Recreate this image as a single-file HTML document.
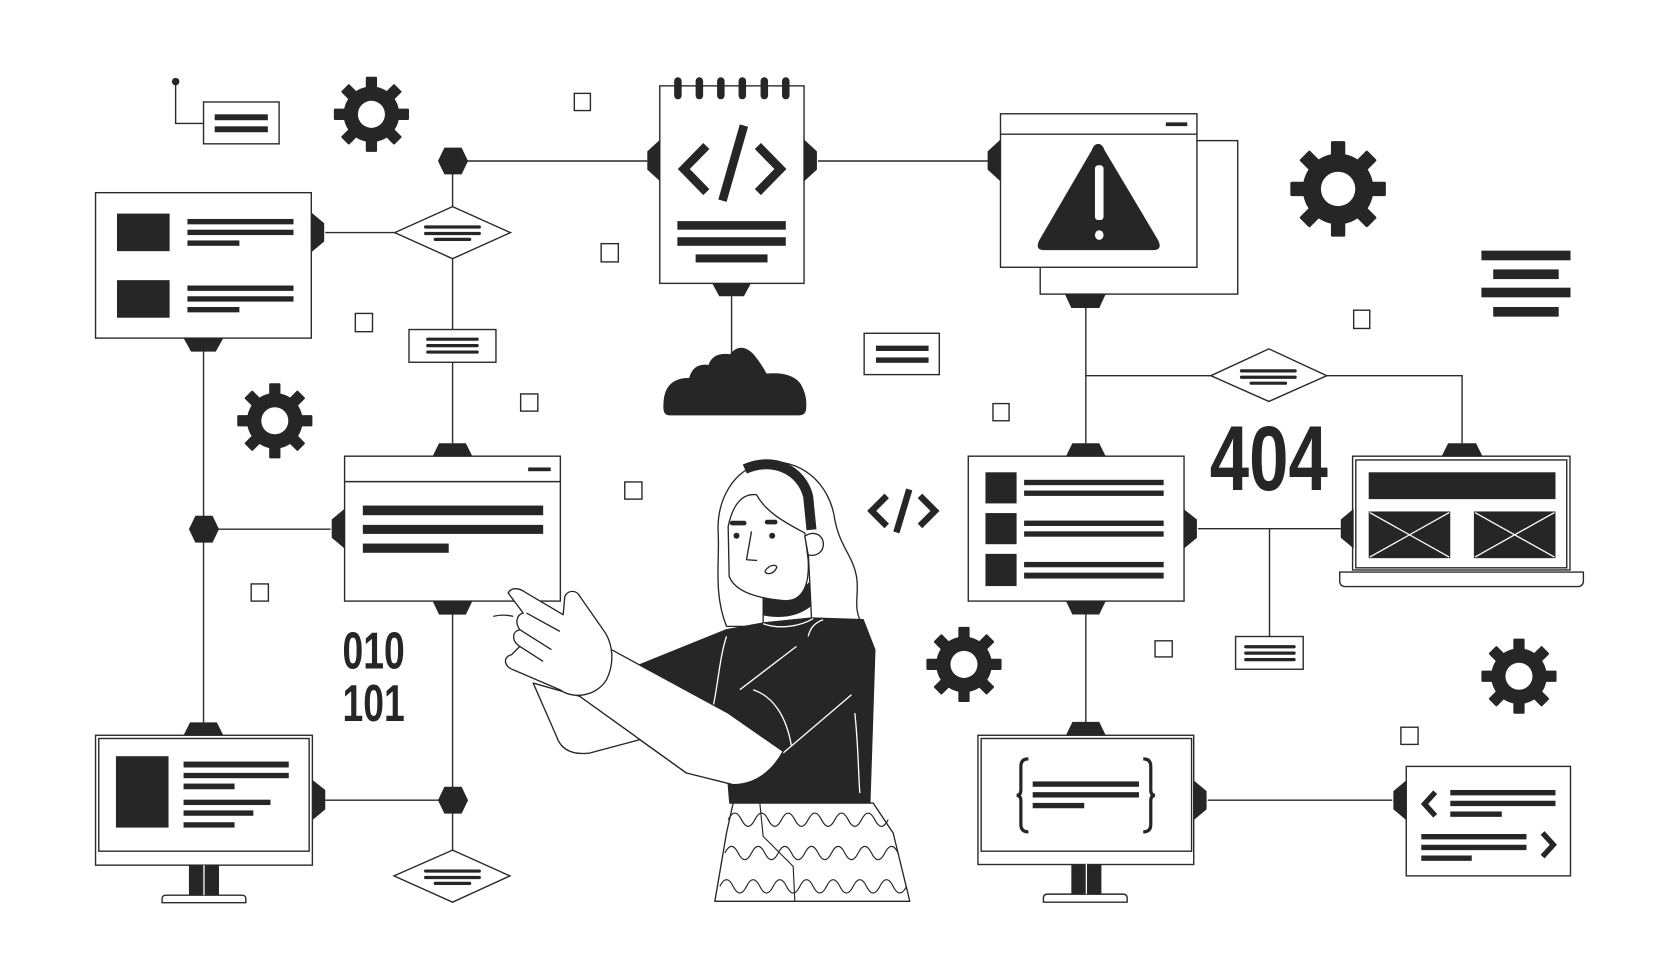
<!DOCTYPE html>
<html><head><meta charset="utf-8"><style>
html,body{margin:0;padding:0;background:#fff;}
svg{display:block;}
</style></head><body>
<svg width="1680" height="980" viewBox="0 0 1565 913" preserveAspectRatio="none" xmlns="http://www.w3.org/2000/svg">
<defs>
<symbol id="gear" viewBox="-1 -1 2 2" overflow="visible">
<g fill="#262626">
<rect x="-0.15" y="-1" width="0.3" height="0.5" rx="0.03"/>
<rect x="-0.15" y="-1" width="0.3" height="0.5" rx="0.03" transform="rotate(45)"/>
<rect x="-0.15" y="-1" width="0.3" height="0.5" rx="0.03" transform="rotate(90)"/>
<rect x="-0.15" y="-1" width="0.3" height="0.5" rx="0.03" transform="rotate(135)"/>
<rect x="-0.15" y="-1" width="0.3" height="0.5" rx="0.03" transform="rotate(180)"/>
<rect x="-0.15" y="-1" width="0.3" height="0.5" rx="0.03" transform="rotate(225)"/>
<rect x="-0.15" y="-1" width="0.3" height="0.5" rx="0.03" transform="rotate(270)"/>
<rect x="-0.15" y="-1" width="0.3" height="0.5" rx="0.03" transform="rotate(315)"/>
<circle r="0.74"/>
</g>
<circle r="0.36" fill="#fff"/>
</symbol>
<symbol id="hex" viewBox="-14 -12.5 28 25" overflow="visible">
<polygon points="-14,0 -8,-12.5 8,-12.5 14,0 8,12.5 -8,12.5" fill="#262626"/>
</symbol>
</defs>
<g stroke="#2a2a2a" stroke-width="1.3" fill="none">
<polyline points="163.6,76 163.6,115 190,115"/>
<line x1="422" y1="150" x2="603" y2="150"/>
<line x1="762" y1="150" x2="920" y2="150"/>
<line x1="303" y1="216.7" x2="368" y2="216.7"/>
<line x1="421.6" y1="150" x2="421.6" y2="413"/>
<line x1="681.5" y1="276" x2="681.5" y2="338"/>
<line x1="189.6" y1="327" x2="189.6" y2="673"/>
<line x1="189.6" y1="493" x2="308" y2="493"/>
<line x1="421.6" y1="572" x2="421.6" y2="793"/>
<line x1="303" y1="745.5" x2="421.6" y2="745.5"/>
<line x1="1011.5" y1="287" x2="1011.5" y2="413"/>
<polyline points="1011.5,350 1362,350 1362,413"/>
<line x1="1116" y1="492.5" x2="1249" y2="492.5"/>
<line x1="1182.6" y1="492.5" x2="1182.6" y2="593"/>
<line x1="1011.5" y1="572" x2="1011.5" y2="673"/>
<line x1="1125" y1="745.5" x2="1297" y2="745.5"/>
</g>
<g fill="#fff" stroke="#2a2a2a" stroke-width="1.3">
<rect x="535" y="87" width="15" height="16"/>
<rect x="331" y="292" width="16" height="17"/>
<rect x="560" y="227" width="16" height="17"/>
<rect x="485" y="367" width="16" height="16"/>
<rect x="582" y="449" width="16" height="16"/>
<rect x="234" y="544" width="16" height="16"/>
<rect x="1261" y="289" width="15" height="17"/>
<rect x="925" y="376" width="15" height="16"/>
<rect x="1076" y="597" width="16" height="15"/>
<rect x="1305" y="677.5" width="16" height="16"/>
<rect x="189.6" y="95" width="70.4" height="39"/>
<rect x="89" y="179.5" width="201" height="135.5"/>
<polygon points="367.7,216.7 421.6,192.5 475.5,216.7 421.6,241"/>
<polygon points="367,816 421.6,792 475,816 421.6,840.5"/>
<polygon points="1128,350 1182,325 1236,350 1182,374"/>
<rect x="381" y="307" width="81" height="30.5"/>
<rect x="805" y="310.5" width="70" height="38.5"/>
<rect x="1151" y="593" width="63" height="30.5"/>
<rect x="614.6" y="80" width="134.4" height="184"/>
<rect x="321" y="425" width="201" height="135"/>
<line x1="321" y1="448.7" x2="522" y2="448.7"/>
<rect x="969" y="131" width="184" height="143"/>
<rect x="932" y="106" width="183" height="143"/>
<line x1="932" y1="125" x2="1115" y2="125"/>
<rect x="902" y="425" width="201" height="135"/>
<rect x="1260" y="425" width="202.5" height="106"/>
<rect x="1263" y="428.5" width="196.5" height="100.5"/>
<path d="M1248,533 H1475 V541 Q1475,546.5 1469,546.5 H1254 Q1248,546.5 1248,541 Z"/>
<rect x="89" y="685" width="202" height="121"/>
<rect x="92" y="688" width="196" height="105"/>
<rect x="911" y="685" width="201" height="120.4"/>
<rect x="914" y="688" width="196" height="105"/>
<path d="M151,841 V837 Q151,834 155,834 H225 Q229,834 229,837 V841 Z"/>
<path d="M972,840.5 V836.5 Q972,833 976,833 H1046 Q1050,833 1050,836.5 V840.5 Z"/>
<rect x="1310" y="714" width="153" height="102"/>
</g>
<g fill="#262626">
<circle cx="163.6" cy="76" r="3.5"/>
<rect x="200" y="106.5" width="49.5" height="5.5"/>
<rect x="200" y="117.7" width="49.5" height="5.5"/>
<rect x="109" y="199" width="49" height="35"/>
<rect x="109" y="261" width="49" height="35"/>
<rect x="174.6" y="204" width="98.8" height="5"/>
<rect x="174.6" y="214" width="98.8" height="5"/>
<rect x="174.6" y="224" width="48.4" height="5"/>
<rect x="174.6" y="266" width="98.8" height="5"/>
<rect x="174.6" y="276" width="98.8" height="5"/>
<rect x="174.6" y="286" width="48.4" height="5"/>
<rect x="395" y="210" width="53" height="3" rx="1.5"/>
<rect x="395" y="216" width="53" height="3" rx="1.5"/>
<rect x="404" y="221.5" width="35" height="3" rx="1.5"/>
<rect x="395" y="810" width="53" height="3" rx="1.5"/>
<rect x="395" y="816" width="53" height="3" rx="1.5"/>
<rect x="404" y="821.5" width="35" height="3" rx="1.5"/>
<rect x="1155" y="344" width="53" height="3" rx="1.5"/>
<rect x="1155" y="350" width="53" height="3" rx="1.5"/>
<rect x="1164" y="355.5" width="35" height="3" rx="1.5"/>
<rect x="397" y="314.5" width="49" height="3" rx="1.5"/>
<rect x="397" y="320.5" width="49" height="3" rx="1.5"/>
<rect x="397" y="326.5" width="49" height="3" rx="1.5"/>
<rect x="816" y="322" width="49" height="5"/>
<rect x="816" y="333" width="49" height="5"/>
<rect x="1159" y="601" width="48" height="3" rx="1.5"/>
<rect x="1159" y="607" width="48" height="3" rx="1.5"/>
<rect x="1159" y="613" width="48" height="3" rx="1.5"/>
<rect x="628" y="72" width="7" height="20.5" rx="3.5"/>
<rect x="648" y="72" width="7" height="20.5" rx="3.5"/>
<rect x="668" y="72" width="7" height="20.5" rx="3.5"/>
<rect x="688" y="72" width="7" height="20.5" rx="3.5"/>
<rect x="708.5" y="72" width="7" height="20.5" rx="3.5"/>
<rect x="728.5" y="72" width="7" height="20.5" rx="3.5"/>
<rect x="631" y="206" width="101" height="8"/>
<rect x="631" y="221" width="101" height="8"/>
<rect x="648" y="237" width="67" height="7.5"/>
<path d="M618,380 Q617,352 642,352 Q646,338 660,340 Q664,328 680,330 Q690,318 702,330 Q710,340 714,348 Q738,346 746,358 Q752,368 751,380 Q751,387 744,387 H624 Q618,387 618,380 Z"/>
<rect x="492" y="435.5" width="21" height="3.5"/>
<rect x="338" y="471" width="168" height="9"/>
<rect x="338" y="489" width="168" height="8.4"/>
<rect x="338" y="506.4" width="80" height="8.6"/>
<rect x="1086" y="114" width="20" height="3.5"/>
<path d="M1023,134 Q1027,134 1029,140 L1079,224 Q1083,233 1075,233 H972 Q964,233 968,224 L1017,140 Q1019,134 1023,134 Z"/>
<rect x="1380" y="233.5" width="83" height="9"/>
<rect x="1391" y="251" width="61" height="9"/>
<rect x="1380" y="268" width="83" height="9"/>
<rect x="1391" y="286" width="61" height="9"/>
<rect x="918" y="440" width="29" height="29"/>
<rect x="918" y="478" width="29" height="29"/>
<rect x="918" y="516" width="29" height="30"/>
<rect x="954" y="447" width="130" height="5"/>
<rect x="954" y="457" width="130" height="5"/>
<rect x="954" y="485" width="130" height="5"/>
<rect x="954" y="495" width="130" height="5"/>
<rect x="954" y="523.5" width="130" height="5"/>
<rect x="954" y="533.5" width="130" height="5.5"/>
<rect x="1275" y="440" width="174" height="25"/>
<rect x="1275" y="476.5" width="76" height="43.5"/>
<rect x="1373" y="476.5" width="76" height="43.5"/>
<rect x="108" y="704.5" width="49" height="66.5"/>
<rect x="171" y="709.5" width="98" height="5.5"/>
<rect x="171" y="720" width="98" height="5"/>
<rect x="171" y="730" width="47.5" height="5.3"/>
<rect x="171" y="745" width="81" height="5"/>
<rect x="171" y="755" width="65" height="5"/>
<rect x="171" y="766" width="47.5" height="5"/>
<rect x="176" y="806" width="28" height="28"/>
<rect x="998" y="805.4" width="28" height="28"/>
<rect x="962" y="728" width="99" height="5"/>
<rect x="962" y="738" width="99" height="5"/>
<rect x="962" y="748" width="48" height="5"/>
<rect x="1351" y="736" width="98" height="5"/>
<rect x="1351" y="746" width="98" height="5"/>
<rect x="1351" y="756" width="48" height="5"/>
<rect x="1324" y="777" width="98" height="5"/>
<rect x="1324" y="787" width="98" height="5"/>
<rect x="1324" y="797" width="47" height="5"/>
<polygon points="615,130 603,141 603,158 615,169"/>
<polygon points="932,130 920,141 920,158 932,169"/>
<polygon points="321,474 309,484 309,501 321,511"/>
<polygon points="1261,474 1249,484 1249,501 1261,511"/>
<polygon points="1310,727 1298,737 1298,754 1310,764"/>
<polygon points="749,130 761,141 761,158 749,169"/>
<polygon points="290,198 302,208 302,225 290,235"/>
<polygon points="1103,474.5 1115,484 1115,501 1103,511"/>
<polygon points="291,726.5 303,736 303,754 291,764"/>
<polygon points="1112,727 1124,737 1124,754 1112,764"/>
<polygon points="663.5,264 699.5,264 693,276 670,276"/>
<polygon points="171,315 208,315 201,327.6 178,327.6"/>
<polygon points="992,274 1030,274 1024,287 998,287"/>
<polygon points="403,560 440,560 434,572.6 409,572.6"/>
<polygon points="993,560 1030,560 1024,572.5 999,572.5"/>
<polygon points="403,425 440,425 434,413 409,413"/>
<polygon points="993,425 1030,425 1024,413 999,413"/>
<polygon points="1343,425 1381,425 1375,413 1349,413"/>
<polygon points="171,685 208,685 202,673 177,673"/>
<polygon points="993,685 1030,685 1024,672.5 999,672.5"/>
</g>
<g fill="#fff">
<rect x="1020" y="154" width="8" height="51" rx="3"/>
<ellipse cx="1024" cy="219" rx="4" ry="4.5"/>
</g>
<g stroke="#fff" stroke-width="1.2">
<line x1="1276" y1="477.5" x2="1350" y2="519"/>
<line x1="1350" y1="477.5" x2="1276" y2="519"/>
<line x1="1374" y1="477.5" x2="1448" y2="519"/>
<line x1="1448" y1="477.5" x2="1374" y2="519"/>
<line x1="190" y1="806" x2="190" y2="834"/>
<line x1="1012" y1="805" x2="1012" y2="833"/>
</g>
<g fill="none" stroke="#262626" stroke-width="8" stroke-linejoin="miter">
<polyline points="658,136 637,157.5 658,179"/>
<polyline points="706,136 727,157.5 706,179"/>
<line x1="693" y1="117" x2="673" y2="187" stroke-width="8"/>
<polyline stroke-width="6" points="826,462 812,476 826,490"/>
<polyline stroke-width="6" points="857,462 871,476 857,490"/>
<line stroke-width="6" x1="847" y1="456" x2="835" y2="496"/>
<polyline stroke-width="5" points="1337,738 1327,749 1337,760"/>
<polyline stroke-width="5" points="1437,776 1447,787 1437,798"/>
</g>
<g fill="none" stroke="#262626" stroke-width="3">
<path d="M958,707 Q951,707 951,714 V736 Q951,741 947,741 Q951,741 951,746 V768 Q951,775 958,775"/>
<path d="M1065,707 Q1072,707 1072,714 V736 Q1072,741 1076,741 Q1072,741 1072,746 V768 Q1072,775 1065,775"/>
</g>
<use href="#hex" x="408" y="137.5" width="28" height="25"/>
<use href="#hex" x="176" y="480.5" width="28" height="25"/>
<use href="#hex" x="408" y="733" width="28" height="25"/>
<use href="#gear" x="311" y="71.5" width="70" height="70"/>
<use href="#gear" x="221" y="357" width="70" height="70"/>
<use href="#gear" x="1202" y="131.5" width="89" height="89"/>
<use href="#gear" x="863" y="584" width="70" height="70"/>
<use href="#gear" x="1380" y="595" width="70" height="70"/>
<g font-family="'Liberation Sans Narrow','Liberation Sans',sans-serif" font-weight="bold" fill="#262626">
<text x="319" y="623" font-size="48" textLength="58" lengthAdjust="spacingAndGlyphs">010</text>
<text x="319" y="671.5" font-size="48" textLength="58" lengthAdjust="spacingAndGlyphs">101</text>
<text x="1127" y="456.5" font-size="86" textLength="110" lengthAdjust="spacingAndGlyphs">404</text>
</g>
<g transform="translate(447,419) scale(0.3105)" stroke="#262626" stroke-width="4" stroke-linejoin="round">
<path fill="#fff" d="M740,530 C700,430 720,330 715,250 C710,150 760,60 850,40 C960,20 1050,100 1065,210 C1080,290 1120,320 1130,380 C1140,440 1115,470 1150,530 Z"/>
<path fill="#fff" d="M850,430 L985,300 L995,505 L850,520 Z"/>
<path fill="#262626" d="M850,440 C900,455 950,440 988,400 L990,470 C950,500 900,505 850,495 Z"/>
<path fill="#fff" d="M745,230 C760,160 790,130 830,135 C860,190 920,220 975,250 L985,330 C990,420 960,460 905,452 C830,445 765,425 748,380 Z"/>
<path fill="#fff" d="M975,260 C1000,240 1035,255 1030,290 C1025,315 1000,320 985,315 Z"/>
<path fill="none" stroke-width="30" d="M795,58 C880,20 965,60 985,140 L995,240"/>
<rect x="750" y="213" width="50" height="14" rx="7" fill="#262626" stroke="none"/>
<rect x="855" y="210" width="38" height="14" rx="7" fill="#262626" stroke="none"/>
<circle cx="770" cy="258" r="9" fill="#262626" stroke="none"/>
<circle cx="877" cy="258" r="9" fill="#262626" stroke="none"/>
<polyline fill="none" points="815,245 800,330 832,332"/>
<path fill="none" d="M855,365 C870,340 895,345 890,355 C880,375 860,375 855,365"/>
<path fill="#262626" d="M480,645 L740,540 L850,520 L1000,505 L1150,510 L1185,600 L1170,1060 L750,1060 L745,1000 Z"/>
<g stroke="#fff" stroke-width="4" fill="none">
<path d="M850,522 C900,540 960,530 1000,507"/>
<path d="M780,720 L950,590"/>
<path d="M910,910 L1115,735"/>
<path d="M740,560 C720,620 715,700 700,770"/>
<path d="M1030,510 C1000,520 990,540 985,560"/>
<path d="M1125,790 C1135,880 1135,960 1140,1030"/>
<path d="M820,720 C880,740 920,800 935,890"/>
</g>
<path fill="#fff" d="M160,700 L300,740 L620,970 L480,870 L330,910 Q250,920 230,860 Z"/>
<path fill="#fff" d="M395,600 L745,790 L910,905 C880,960 830,1005 760,1005 L620,970 L300,740 Z"/>
<path fill="#fff" d="M85,430 C95,410 120,415 140,430 L250,495 L255,440 C265,420 290,420 300,440 L370,540 C400,580 405,640 380,690 C350,740 280,750 240,720 L100,660 C70,650 70,620 95,615 L120,590 C95,575 95,545 120,540 C105,520 110,495 130,490 Z"/>
<g fill="none">
<path d="M140,490 L240,545"/>
<path d="M120,540 L215,600"/>
<path d="M120,590 L190,635"/>
<path d="M40,500 C60,495 80,495 100,500"/>
</g>
<path fill="#fff" d="M760,1060 L1180,1060 L1240,1150 L1290,1355 L705,1355 L740,1150 Z"/>
<g fill="none" stroke-width="3.5">
<path d="M745,1110 q20,-40 40,0 t40,0 t40,0 t40,0 t40,0 t40,0 t40,0 t40,0 t40,0 t40,0 t40,0 t40,0"/>
<path d="M735,1210 q20,-40 40,0 t40,0 t40,0 t40,0 t40,0 t40,0 t40,0 t40,0 t40,0 t40,0 t40,0 t40,0 t40,0"/>
<path d="M720,1310 q20,-40 40,0 t40,0 t40,0 t40,0 t40,0 t40,0 t40,0 t40,0 t40,0 t40,0 t40,0 t40,0 t40,0 t40,0"/>
<path d="M840,1060 L850,1160 L940,1250 L945,1355"/>
</g>
</g>
</svg>
</body></html>
